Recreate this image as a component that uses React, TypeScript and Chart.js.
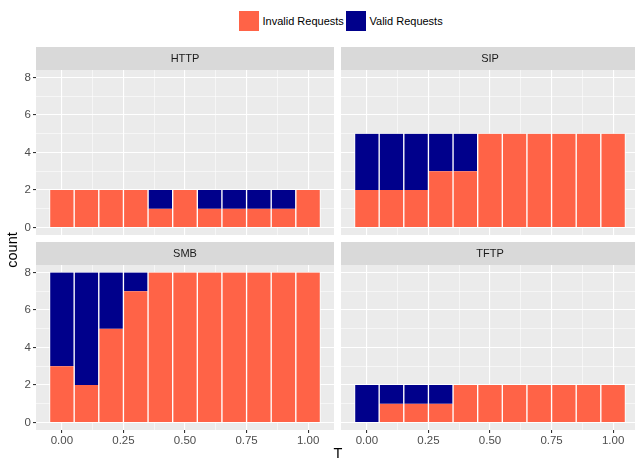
import React, { useEffect, useRef } from "react";
import { Chart, registerables } from "chart.js";

Chart.register(...registerables);

// ---------- data ----------
const tValues = [0, 0.1, 0.2, 0.3, 0.4, 0.5, 0.6, 0.7, 0.8, 0.9, 1.0];

const httpInvalid = [2, 2, 2, 2, 1, 2, 1, 1, 1, 1, 2];
const httpValid = [0, 0, 0, 0, 1, 0, 1, 1, 1, 1, 0];

const sipInvalid = [2, 2, 2, 3, 3, 5, 5, 5, 5, 5, 5];
const sipValid = [3, 3, 3, 2, 2, 0, 0, 0, 0, 0, 0];

const smbInvalid = [3, 2, 5, 7, 8, 8, 8, 8, 8, 8, 8];
const smbValid = [5, 6, 3, 1, 0, 0, 0, 0, 0, 0, 0];

const tftpInvalid = [0, 1, 1, 1, 2, 2, 2, 2, 2, 2, 2];
const tftpValid = [2, 1, 1, 1, 0, 0, 0, 0, 0, 0, 0];

const xMajorTicks = [0, 0.25, 0.5, 0.75, 1.0];
const xMinorTicks = [0.125, 0.375, 0.625, 0.875];
const yMajorTicks = [0, 2, 4, 6, 8];
const yMinorTicks = [1, 3, 5, 7];

const seriesNames = ["Invalid Requests", "Valid Requests"];
const seriesColors = ["#FF6347", "#00008B"];

const xTitle = "T";
const yTitle = "count";

// ---------- style ----------
const FONT = "'Liberation Sans', Arial, Helvetica, sans-serif";
Chart.defaults.font.family = FONT;

const stripPlugin = {
  id: "strip",
  beforeDraw(chart: any, _args: any, opts: any) {
    const { ctx, chartArea } = chart;
    const { left, top, right, bottom } = chartArea;
    ctx.save();
    ctx.fillStyle = "#EBEBEB";
    ctx.fillRect(left, top, right - left, bottom - top);
    ctx.fillStyle = "#D9D9D9";
    ctx.fillRect(left, top - 23, right - left, 23);
    ctx.fillStyle = "#1A1A1A";
    ctx.font = `11px ${FONT}`;
    ctx.textAlign = "center";
    ctx.textBaseline = "middle";
    ctx.fillText(opts.label || "", (left + right) / 2, top - 11.5);
    ctx.restore();
  },
};

const isIn = (arr: number[], v: number) => arr.some((a) => Math.abs(a - v) < 1e-9);

function makeAxis(
  axis: "x" | "y",
  showLabels: boolean,
  fitSize: number
) {
  const major = axis === "x" ? xMajorTicks : yMajorTicks;
  const minor = axis === "x" ? xMinorTicks : yMinorTicks;
  return {
    type: "linear",
    stacked: true,
    offset: false,
    min: axis === "x" ? -0.105 : -0.4,
    max: axis === "x" ? 1.105 : 8.4,
    afterBuildTicks: (scale: any) => {
      scale.ticks = [...major, ...minor]
        .sort((a, b) => a - b)
        .map((v) => ({ value: v }));
    },
    afterFit: (scale: any) => {
      if (axis === "x") scale.height = fitSize;
      else scale.width = fitSize;
      scale.paddingTop = 0;
      scale.paddingBottom = 0;
      scale.paddingLeft = 0;
      scale.paddingRight = 0;
    },
    border: { display: false },
    grid: {
      offset: false,
      drawTicks: showLabels,
      tickLength: 3,
      tickWidth: 1.1,
      color: "#FFFFFF",
      lineWidth: (c: any) => (c.tick && isIn(major, c.tick.value) ? 1.1 : 0.55),
      tickColor: (c: any) =>
        c.tick && isIn(major, c.tick.value) ? "#333333" : "rgba(0,0,0,0)",
    },
    ticks: {
      display: showLabels,
      autoSkip: false,
      maxRotation: 0,
      minRotation: 0,
      padding: axis === "x" ? 1 : 2,
      color: "#4D4D4D",
      font: { size: 11.5, family: FONT },
      callback: (v: any) => {
        const n = Number(v);
        if (!isIn(major, n)) return "";
        return axis === "x" ? n.toFixed(2) : String(n);
      },
    },
  };
}

type PanelProps = {
  label: string;
  invalid: number[];
  valid: number[];
  left: number;
  top: number;
  width: number;
  height: number;
  showY: boolean;
  showX: boolean;
};

function Panel(p: PanelProps) {
  const ref = useRef<HTMLCanvasElement | null>(null);
  useEffect(() => {
    if (!ref.current) return;
    const toPts = (arr: number[]) => tValues.map((t, i) => ({ x: t, y: arr[i] }));
    const mk = (i: number, arr: number[]) => ({
      label: seriesNames[i],
      data: toPts(arr) as any,
      backgroundColor: seriesColors[i],
      borderColor: "#FFFFFF",
      borderWidth: { left: 1, right: 1, top: 0, bottom: 0 } as any,
      borderSkipped: false,
      barPercentage: 1,
      categoryPercentage: 1,
    });
    const chart = new Chart(ref.current, {
      type: "bar",
      data: { datasets: [mk(0, p.invalid), mk(1, p.valid)] as any },
      options: {
        responsive: false,
        animation: false,
        devicePixelRatio: 1,
        layout: { padding: { top: 23, left: 0, right: 0, bottom: 0 } },
        scales: {
          x: makeAxis("x", p.showX, p.showX ? 28 : 0) as any,
          y: makeAxis("y", p.showY, p.showY ? 36 : 0) as any,
        },
        plugins: {
          legend: { display: false },
          tooltip: { enabled: false },
          title: { display: false },
          strip: { label: p.label },
        } as any,
      },
      plugins: [stripPlugin],
    });
    return () => chart.destroy();
  }, []);
  return (
    <div
      style={{
        position: "absolute",
        left: p.left,
        top: p.top,
        width: p.width,
        height: p.height,
      }}
    >
      <canvas
        ref={ref}
        width={p.width}
        height={p.height}
        style={{ width: p.width, height: p.height, display: "block" }}
      />
    </div>
  );
}

export default function App() {
  const legendText: React.CSSProperties = {
    position: "absolute",
    top: 11,
    height: 20,
    lineHeight: "20px",
    fontSize: 11,
    fontFamily: FONT,
    color: "#000",
    whiteSpace: "nowrap",
  };
  return (
    <div
      style={{
        position: "fixed",
        left: 0,
        top: 0,
        width: 635,
        height: 458,
        overflow: "hidden",
        background: "#FFFFFF",
        fontFamily: FONT,
      }}
    >
      {/* legend */}
      <div style={{ position: "absolute", left: 239, top: 11, width: 20, height: 20, background: seriesColors[0] }} />
      <div style={{ ...legendText, left: 262.5 }}>{seriesNames[0]}</div>
      <div style={{ position: "absolute", left: 346, top: 11, width: 20, height: 20, background: seriesColors[1] }} />
      <div style={{ ...legendText, left: 369.5 }}>{seriesNames[1]}</div>

      <Panel label="HTTP" invalid={httpInvalid} valid={httpValid} left={0} top={47} width={334} height={188} showY={true} showX={false} />
      <Panel label="SIP" invalid={sipInvalid} valid={sipValid} left={341} top={47} width={298} height={188} showY={false} showX={false} />
      <Panel label="SMB" invalid={smbInvalid} valid={smbValid} left={0} top={242} width={334} height={216} showY={true} showX={true} />
      <Panel label="TFTP" invalid={tftpInvalid} valid={tftpValid} left={341} top={242} width={298} height={216} showY={false} showX={true} />

      {/* axis titles */}
      <div
        style={{
          position: "absolute",
          left: 12 - 50,
          top: 250 - 9,
          width: 100,
          height: 18,
          lineHeight: "18px",
          textAlign: "center",
          fontSize: 14.5,
          color: "#000",
          transform: "rotate(-90deg)",
        }}
      >
        {yTitle}
      </div>
      <div
        style={{
          position: "absolute",
          left: 338 - 20,
          top: 445,
          width: 40,
          height: 17,
          lineHeight: "17px",
          textAlign: "center",
          fontSize: 14.5,
          color: "#000",
        }}
      >
        {xTitle}
      </div>
    </div>
  );
}
